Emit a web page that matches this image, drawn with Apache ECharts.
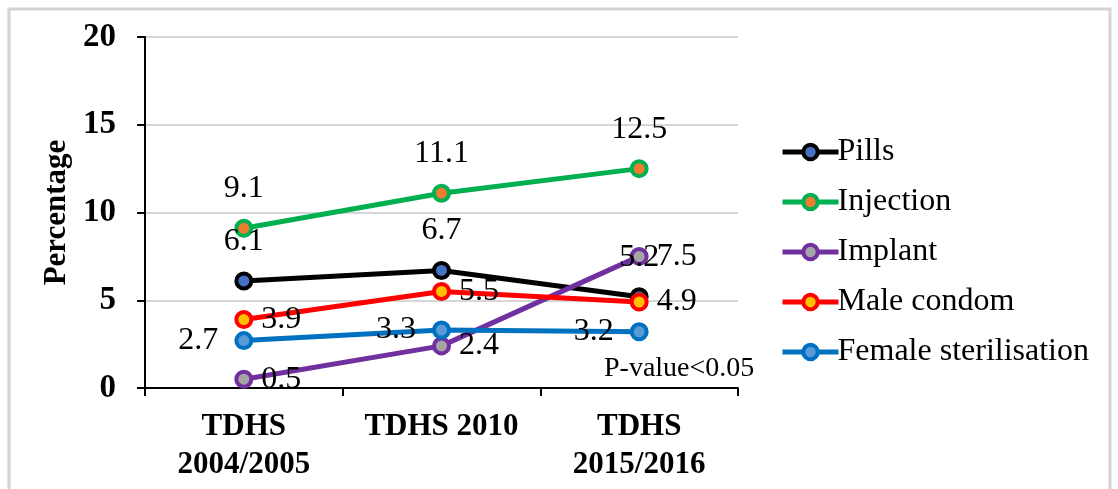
<!DOCTYPE html>
<html>
<head>
<meta charset="utf-8">
<script src="https://cdn.jsdelivr.net/npm/echarts@6/dist/echarts.min.js"></script>
<style>
    html, body { margin: 0; padding: 0; background: #fff; }
    #chart { width: 1118px; height: 489px; }
</style>
</head>
<body>
<div id="chart"></div>
<script>
const categories = ['TDHS\n2004/2005', 'TDHS 2010', 'TDHS\n2015/2016']
const pills = [6.1, 6.7, 5.2]
const injection = [9.1, 11.1, 12.5]
const implant = [0.5, 2.4, 7.5]
const maleCondom = [3.9, 5.5, 4.9]
const femaleSterilisation = [2.7, 3.3, 3.2]
const yTicks = { min: 0, max: 20, interval: 5 }

const serif = 'Liberation Serif, Times New Roman, serif'

function lineSeries(name, data, color, dot, labelPos, labelDist) {
    return {
        name: name,
        type: 'line',
        data: data,
        symbol: 'circle',
        symbolSize: 15,
        lineStyle: { color: color, width: 5 },
        itemStyle: { color: dot, borderColor: color, borderWidth: 4 },
        label: {
            show: true,
            position: labelPos,
            distance: labelDist,
            fontFamily: serif,
            fontSize: 32,
            color: '#000'
        },
        emphasis: { disabled: true },
        animation: false
    }
}

const chart = echarts.init(document.getElementById('chart'))
chart.setOption({
    backgroundColor: '#fff',
    animation: false,
    graphic: [
        {
            type: 'rect',
            shape: { x: 9, y: 9, width: 1101, height: 500 },
            style: { fill: 'none', stroke: '#d4d4d4', lineWidth: 3 }
        },
        {
            type: 'text',
            left: 604,
            top: 355,
            style: { text: 'P-value<0.05', fontFamily: serif, fontSize: 28, fill: '#000' }
        }
    ],
    grid: { left: 145, right: 380, top: 37, bottom: 101 },
    legend: {
        orient: 'vertical',
        left: 775,
        top: 131,
        itemWidth: 56,
        itemHeight: 18,
        itemGap: 18,
        lineStyle: { width: 5 },
        itemStyle: { borderWidth: 4 },
        textStyle: { fontFamily: serif, fontSize: 32, color: '#000', padding: [0, 0, 0, -6] },
        data: ['Pills', 'Injection', 'Implant', 'Male condom', 'Female sterilisation']
    },
    xAxis: {
        type: 'category',
        data: categories,
        boundaryGap: true,
        axisLine: { lineStyle: { color: '#000', width: 2 } },
        axisTick: { show: true, length: 8, interval: 0, lineStyle: { color: '#000', width: 2 } },
        axisLabel: {
            interval: 0,
            hideOverlap: false,
            fontFamily: serif,
            fontSize: 31,
            fontWeight: 'bold',
            color: '#000',
            lineHeight: 38,
            margin: 20
        }
    },
    yAxis: {
        type: 'value',
        min: yTicks.min,
        max: yTicks.max,
        interval: yTicks.interval,
        name: 'Percentage',
        nameLocation: 'middle',
        nameGap: 68,
        nameTextStyle: { fontFamily: serif, fontSize: 31, fontWeight: 'bold', color: '#000' },
        axisLine: { show: true, lineStyle: { color: '#000', width: 2 } },
        axisTick: { show: true, length: 8, lineStyle: { color: '#000', width: 2 } },
        splitLine: { lineStyle: { color: '#d6d6d6', width: 2 } },
        axisLabel: {
            fontFamily: serif,
            fontSize: 33,
            fontWeight: 'bold',
            color: '#000',
            margin: 29
        }
    },
    series: [
        lineSeries('Pills', pills, '#000000', '#4472c4', 'top', 14),
        lineSeries('Injection', injection, '#00b050', '#ed7d31', 'top', 14),
        lineSeries('Implant', implant, '#7030a0', '#a5a5a5', 'right', 8),
        lineSeries('Male condom', maleCondom, '#ff0000', '#ffc000', 'right', 8),
        lineSeries('Female sterilisation', femaleSterilisation, '#0070c0', '#5b9bd5', 'left', 16)
    ]
})
</script>
</body>
</html>
